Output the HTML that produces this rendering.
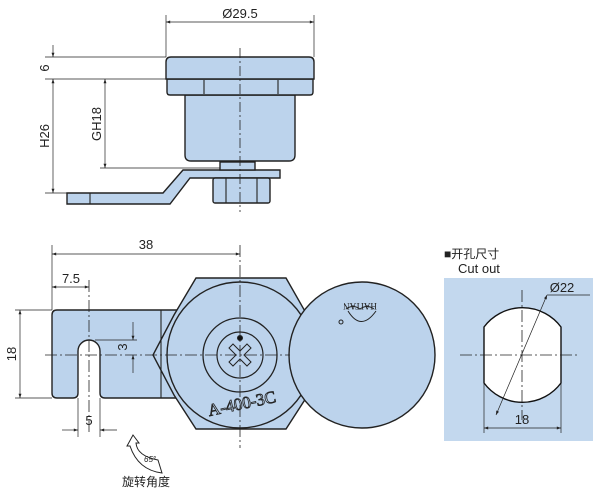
<!DOCTYPE html>
<html><head><meta charset="utf-8"><style>
html,body{margin:0;padding:0;background:#fff;}
svg{display:block;font-family:"Liberation Sans","Noto Sans CJK SC",sans-serif;}
</style></head><body>
<svg width="600" height="495" viewBox="0 0 600 495" xmlns="http://www.w3.org/2000/svg">
<defs>
<marker id="a" viewBox="0 0 10 10" refX="10" refY="5" markerWidth="8" markerHeight="6" orient="auto-start-reverse"><path d="M0,1.5 L10,5 L0,8.5 z" fill="#222"/></marker>
</defs>
<g stroke="#222" stroke-width="1" fill="none">
<g fill="#bcd3ec" stroke="#222" stroke-width="1.4">
<path d="M67,193 H163 L183,170 H280 V178 H190 L170,204 H67 Z"/>
<rect x="213" y="178" width="57" height="25" rx="2"/>
<rect x="220" y="162" width="35" height="8"/>
<path d="M185,95 H295 V155 Q295,161 289,161 H191 Q185,161 185,155 Z"/>
<path d="M167,79 H313 V92 Q313,95 310,95 H170 Q167,95 167,92 Z"/>
<path d="M166,79 V62 Q166,57 171,57 H309 Q314,57 314,62 V79 Z"/>
</g>
<g stroke-width="1.1">
<line x1="204" y1="80" x2="204" y2="94"/><line x1="278" y1="80" x2="278" y2="94"/>
<line x1="90" y1="193" x2="90" y2="204"/>
<line x1="226" y1="178" x2="226" y2="203"/><line x1="257" y1="178" x2="257" y2="203"/>
</g>
<line x1="240" y1="48" x2="240" y2="212" stroke-width="0.8" stroke-dasharray="10,3,2,3"/>
<g stroke-width="0.7">
<line x1="166" y1="15" x2="166" y2="57"/><line x1="314" y1="15" x2="314" y2="57"/>
<line x1="166" y1="22" x2="314" y2="22" marker-start="url(#a)" marker-end="url(#a)"/>
<line x1="45" y1="57" x2="166" y2="57"/><line x1="45" y1="79" x2="166" y2="79"/>
<line x1="53" y1="45" x2="53" y2="57" marker-end="url(#a)"/>
<line x1="53" y1="79" x2="53" y2="193" marker-start="url(#a)" marker-end="url(#a)"/>
<line x1="45" y1="193" x2="67" y2="193"/>
<line x1="105" y1="79" x2="105" y2="168" marker-start="url(#a)" marker-end="url(#a)"/>
<line x1="100" y1="168" x2="220" y2="168"/>
</g>

<g fill="#bcd3ec" stroke="#222" stroke-width="1.4">
<path d="M57,310 H180 V398 H105 Q100,398 100,393 V351 A11,11 0 0 0 78,351 V393 Q78,398 73,398 H57 Q52,398 52,393 V315 Q52,310 57,310 Z"/>
<path d="M196,278 H286 L306,313 L306,398 L286,429 H196 L174,395 L153,355 L174,315 Z"/>
<circle cx="240" cy="355" r="73"/>
<circle cx="362" cy="355" r="73"/>
</g>
<line x1="161" y1="310" x2="161" y2="398" stroke-width="1.1"/>
<circle cx="240" cy="355" r="37" stroke-width="1.3"/>
<circle cx="240" cy="355" r="23" stroke-width="1.2"/>
<path d="M233,344 L240,351 L247,344 L251,348 L244,355 L251,362 L247,366 L240,359 L233,366 L229,362 L236,355 L229,348 Z" stroke-width="1"/>
<circle cx="240" cy="338" r="2.5" fill="#111"/>
<g stroke-width="0.8" stroke-dasharray="12,3,2,3">
<line x1="45" y1="355" x2="290" y2="355"/>
<line x1="240" y1="245" x2="240" y2="448"/>
<line x1="89" y1="280" x2="89" y2="435"/>
</g>
<g stroke-width="0.7">
<line x1="52" y1="245" x2="52" y2="310"/>
<line x1="52" y1="254" x2="240" y2="254" marker-start="url(#a)" marker-end="url(#a)"/>
<line x1="52" y1="287" x2="89" y2="287" marker-start="url(#a)" marker-end="url(#a)"/>
<line x1="15" y1="310" x2="52" y2="310"/><line x1="15" y1="398" x2="52" y2="398"/>
<line x1="20" y1="310" x2="20" y2="398" marker-start="url(#a)" marker-end="url(#a)"/>
<line x1="95" y1="340" x2="137" y2="340"/>
<line x1="133" y1="322" x2="133" y2="340" marker-end="url(#a)"/>
<line x1="133" y1="373" x2="133" y2="355" marker-end="url(#a)"/>
<line x1="78" y1="398" x2="78" y2="437"/><line x1="100" y1="398" x2="100" y2="437"/>
<line x1="62" y1="430" x2="78" y2="430" marker-end="url(#a)"/>
<line x1="117" y1="430" x2="100" y2="430" marker-end="url(#a)"/>
</g>
<g stroke-width="1">
<path d="M346,309 Q353,304 360,309 Q367,304 374,309"/>
<path d="M348,311 Q361,332 376,311"/>
<circle cx="341" cy="322" r="2"/>
</g>
<path d="M133,435 L139,443 L136,443 Q137,456 158,460 L162,473 Q138,470 130,446 L127,446 Z" fill="#fff" stroke-width="1"/>

<rect x="444" y="278" width="149" height="163" fill="#c3d8ee" stroke="none"/>
<path d="M484,327 A48,48 0 0 1 561,327 V383 A48,48 0 0 1 484,383 Z" fill="#fff" stroke="#111" stroke-width="1.4"/>
<g stroke-width="0.8" stroke-dasharray="12,3,2,3">
<line x1="460" y1="355" x2="580" y2="355"/>
<line x1="522" y1="290" x2="522" y2="420"/>
</g>
<g stroke-width="0.7">
<line x1="496" y1="415" x2="547" y2="295" marker-start="url(#a)" marker-end="url(#a)"/>
<line x1="547" y1="295" x2="590" y2="295"/>
<line x1="484" y1="383" x2="484" y2="433"/><line x1="561" y1="383" x2="561" y2="433"/>
<line x1="484" y1="428" x2="561" y2="428" marker-start="url(#a)" marker-end="url(#a)"/>
</g>
</g>
<g fill="#222" font-size="13">
<text x="240" y="18" text-anchor="middle">Ø29.5</text>
<text transform="translate(49,68) rotate(-90)" text-anchor="middle">6</text>
<text transform="translate(49,136) rotate(-90)" text-anchor="middle">H26</text>
<text transform="translate(101,124) rotate(-90)" text-anchor="middle">GH18</text>
<text x="146" y="249" text-anchor="middle">38</text>
<text x="71" y="283" text-anchor="middle">7.5</text>
<text transform="translate(16,354) rotate(-90)" text-anchor="middle">18</text>
<text transform="translate(127,347) rotate(-90)" text-anchor="middle">3</text>
<text x="89" y="425" text-anchor="middle">5</text>
<text x="522" y="424" text-anchor="middle">18</text>
<text x="562" y="292" text-anchor="middle">Ø22</text>
<text x="444" y="258" font-size="12">■开孔尺寸</text>
<text x="458" y="273" font-size="13">Cut out</text>
<text x="146" y="486" text-anchor="middle" font-size="12">旋转角度</text>
<text x="144" y="462" font-size="8" font-style="italic">65°</text>
<text transform="translate(360,303) rotate(180)" text-anchor="middle" font-size="9" font-family="Liberation Serif,serif">HAITAN</text>
<text transform="translate(243,409) rotate(-12)" text-anchor="middle" font-size="17" font-family="Liberation Serif,serif" fill="#bcd3ec" stroke="#222" stroke-width="0.8">A-400-3C</text>
</g>
</svg>
</body></html>
